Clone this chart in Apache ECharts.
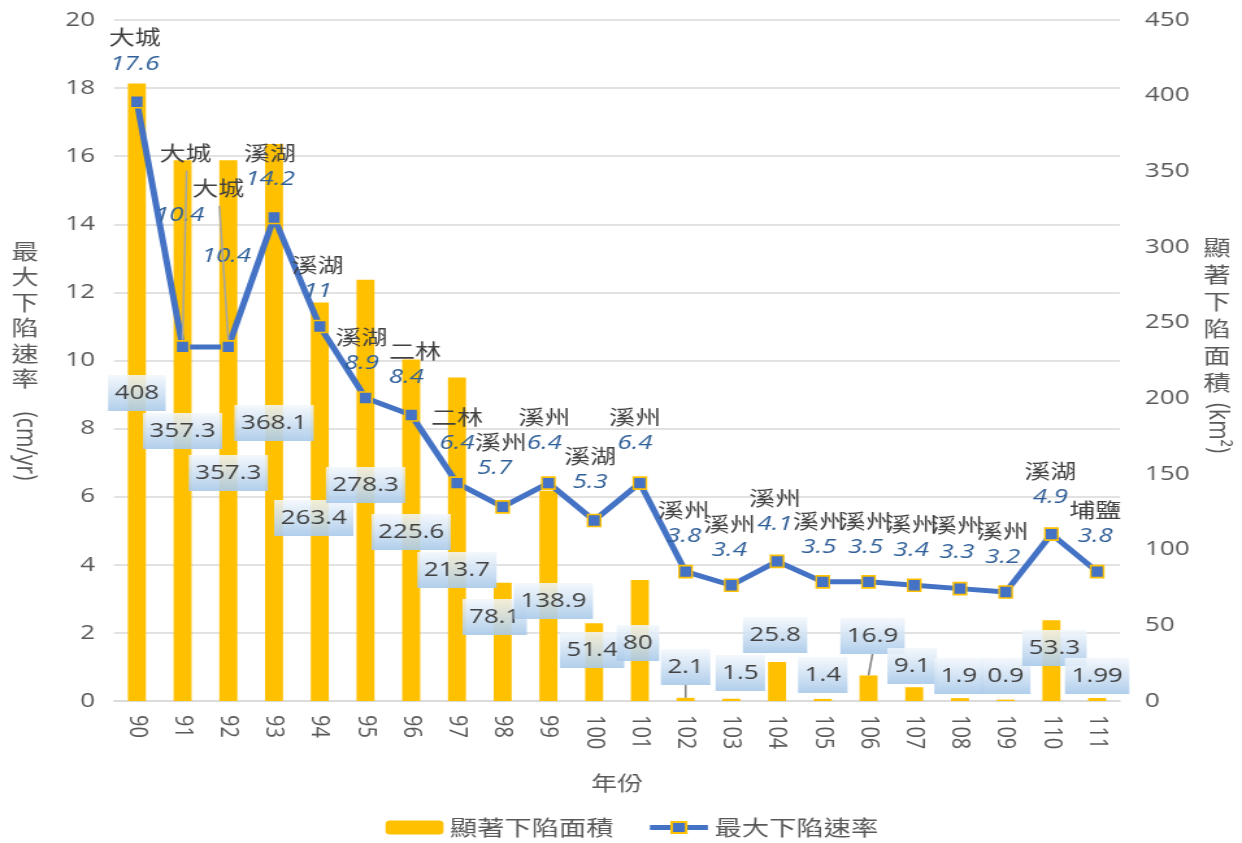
<!DOCTYPE html>
<html><head><meta charset="utf-8">
<script src="https://cdn.jsdelivr.net/npm/echarts@6/dist/echarts.min.js"></script>
<style>
html,body{margin:0;padding:0;background:#fff;overflow:hidden}
#c{width:956px;height:843px;transform:scaleX(1.29916);transform-origin:0 0}
</style>
</head><body><div id="c"></div>
<script>
// ---- data ----
const years = ['90','91','92','93','94','95','96','97','98','99','100','101','102','103','104','105','106','107','108','109','110','111'];
const area = [408,357.3,357.3,368.1,263.4,278.3,225.6,213.7,78.1,138.9,51.4,80,2.1,1.5,25.8,1.4,16.9,9.1,1.9,0.9,53.3,1.99];
const rate = [17.6,10.4,10.4,14.2,11,8.9,8.4,6.4,5.7,6.4,5.3,6.4,3.8,3.4,4.1,3.5,3.5,3.4,3.3,3.2,4.9,3.8];
const place = ['大城','大城','大城','溪湖','溪湖','溪湖','二林','二林','溪州','溪州','溪湖','溪州','溪州','溪州','溪州','溪州','溪州','溪州','溪州','溪州','溪湖','埔鹽'];
const seriesNames = ['顯著下陷面積','最大下陷速率'];

// ---- label layout (pixels in the final picture) ----
const S = 1242/956; // horizontal stretch of the whole chart
const barLabelAt = [[0,393],[0,431],[0,473],[0,423],[-6,518],[0,485],[0,532],[0,570],[-8,617],[5,601],[-2,650],[-2,643],[0,667],[9,673],[-2,635],[0,675],[4,636],[-2,666],[-1,676],[0,676],[3,648],[0,676]];
const lineLabelOff = [[-2,-40],[-3,-134],[-2,-93],[-4,-40],[-2,-37],[-4,-37],[-5,-40],[0,-42],[-8,-41],[-4,-42],[-4,-40],[-5,-42],[-2,-37],[-2,-37],[-2,-39],[-4,-37],[-3,-37],[-3,-37],[-3,-39],[-3,-37],[-1,-39],[-2,-37]];
const nameGapExtra = {1:36, 2:42};
const nameShift = {1:6, 2:-8, 6:9, 8:6};

const FONT = '"Open Sans","Noto Sans CJK TC",sans-serif';
const CJK = '"Noto Sans CJK TC","Open Sans",sans-serif';
const GRAY = '#595959';
const FS = 20;

const chart = echarts.init(document.getElementById('c'));

const labelBg = new echarts.graphic.LinearGradient(0,0,0,1,[
  {offset:0,color:'rgba(242,247,252,0.85)'},
  {offset:1,color:'rgba(170,202,234,0.92)'}
]);

function baseOption(){
  return {
    animation:false,
    textStyle:{fontFamily:FONT},
    grid:{left:114/S,right:122/S,top:20,bottom:142},
    legend:{
      data:seriesNames, bottom:0, left:379/S, itemWidth:58/S, itemHeight:14, itemGap:33/S,
      lineStyle:{width:5},
      textStyle:{fontSize:21,color:GRAY,fontFamily:CJK}
    },
    xAxis:{
      type:'category', data:years,
      name:'年份', nameLocation:'middle', nameGap:72,
      nameTextStyle:{fontSize:FS,color:GRAY,fontFamily:CJK},
      axisLine:{lineStyle:{color:'#D9D9D9',width:1.5}},
      axisTick:{show:false},
      axisLabel:{rotate:-90,fontSize:FS,color:GRAY,margin:14,interval:0}
    },
    yAxis:[
      {type:'value',min:0,max:20,interval:2,
       axisLine:{show:false},axisTick:{show:false},
       axisLabel:{fontSize:FS,color:GRAY,margin:19/S},
       splitLine:{lineStyle:{color:'#D9D9D9',width:1.5}}},
      {type:'value',min:0,max:450,interval:50,
       axisLine:{show:false},axisTick:{show:false},
       axisLabel:{fontSize:FS,color:GRAY,margin:25/S},
       splitLine:{show:false}}
    ],
    series:[
      {name:seriesNames[0],type:'bar',yAxisIndex:1,barWidth:18/S,
       itemStyle:{color:'#FFC000'},
       data:area.map(v=>({value:v})), z:2},
      {name:seriesNames[1],type:'line',yAxisIndex:0,
       symbol:'rect',symbolSize:[10,12],
       lineStyle:{color:'#4472C4',width:5},
       itemStyle:{color:'#4472C4',borderColor:'#FFC000',borderWidth:1.5},
       data:rate.map(v=>({value:v})), z:3}
    ]
  };
}

chart.setOption(baseOption());

const xp = i => chart.convertToPixel({xAxisIndex:0}, i);
const yR = v => chart.convertToPixel({yAxisIndex:0}, v);
const yA = v => chart.convertToPixel({yAxisIndex:1}, v);

const opt = baseOption();
const graphics = [];

opt.series[0].data = area.map((v,i)=>{
  const top = yA(v), bot = yA(0);
  const [dx, ty] = barLabelAt[i];
  return {value:v, label:{
    show:true, position:'inside', formatter:String(v),
    offset:[dx/S, ty-(top+bot)/2],
    fontSize:FS, color:'#404040', fontFamily:FONT,
    backgroundColor:labelBg, padding:[6,5,6,5], lineHeight:24
  }};
});

opt.series[1].data = rate.map((v,i)=>{
  const [dx, dy] = lineLabelOff[i];
  const extra = nameGapExtra[i]||0;
  const sh = (nameShift[i]||0)/S;
  const pad = sh>=0 ? [0,0,0,2*sh] : [0,-2*sh,0,0];
  return {value:v, label:{
    show:true, position:'top', distance:0,
    offset:[dx/S, dy+22],
    formatter:'{n|'+place[i]+'}\n{v|'+v+'}',
    rich:{
      n:{fontSize:FS,color:'#404040',lineHeight:26+2*extra,fontFamily:CJK,padding:pad},
      v:{fontSize:FS,color:'#2F5F98',fontStyle:'italic',lineHeight:26,fontFamily:FONT}
    }
  }};
});

// leader lines for line labels 91, 92
[1,2].forEach(i=>{
  const px = xp(i), py = yR(rate[i]);
  const [dx, dy] = lineLabelOff[i];
  const ny = py + dy - 26 - (nameGapExtra[i]||0);
  const nx = px + (dx + (nameShift[i]||0))/S;
  graphics.push({type:'line',shape:{x1:nx+1/S,y1:ny+20,x2:px,y2:py-7},style:{stroke:'#A6A6A6',lineWidth:1.5},z:10});
});
// leader lines for bar labels 102, 106
[12,16].forEach(i=>{
  const px = xp(i), top = yA(area[i]);
  const [dx, ty] = barLabelAt[i];
  graphics.push({type:'line',shape:{x1:px+dx/S,y1:ty+18,x2:px,y2:top},style:{stroke:'#7F7F7F',lineWidth:1.5},z:10});
});

// axis names (upright CJK, rotated latin)
graphics.push({type:'text',x:25/S,y:238,style:{text:'最\n大\n下\n陷\n速\n率',font:'21px '+CJK,fill:GRAY,align:'center',verticalAlign:'top',lineHeight:25.5}});
graphics.push({type:'text',x:25/S,y:446,rotation:-Math.PI/2,style:{text:'(cm/yr)',font:'21px '+FONT,fill:GRAY,align:'center',verticalAlign:'middle'}});
graphics.push({type:'text',x:1217/S,y:234,style:{text:'顯\n著\n下\n陷\n面\n積',font:'21px '+CJK,fill:GRAY,align:'center',verticalAlign:'top',lineHeight:27}});
graphics.push({type:'text',x:1217/S,y:428,rotation:-Math.PI/2,style:{text:'(km²)',font:'21px '+FONT,fill:GRAY,align:'center',verticalAlign:'middle'}});

opt.graphic = {elements:graphics};
chart.setOption(opt, true);
</script>
</body></html>
